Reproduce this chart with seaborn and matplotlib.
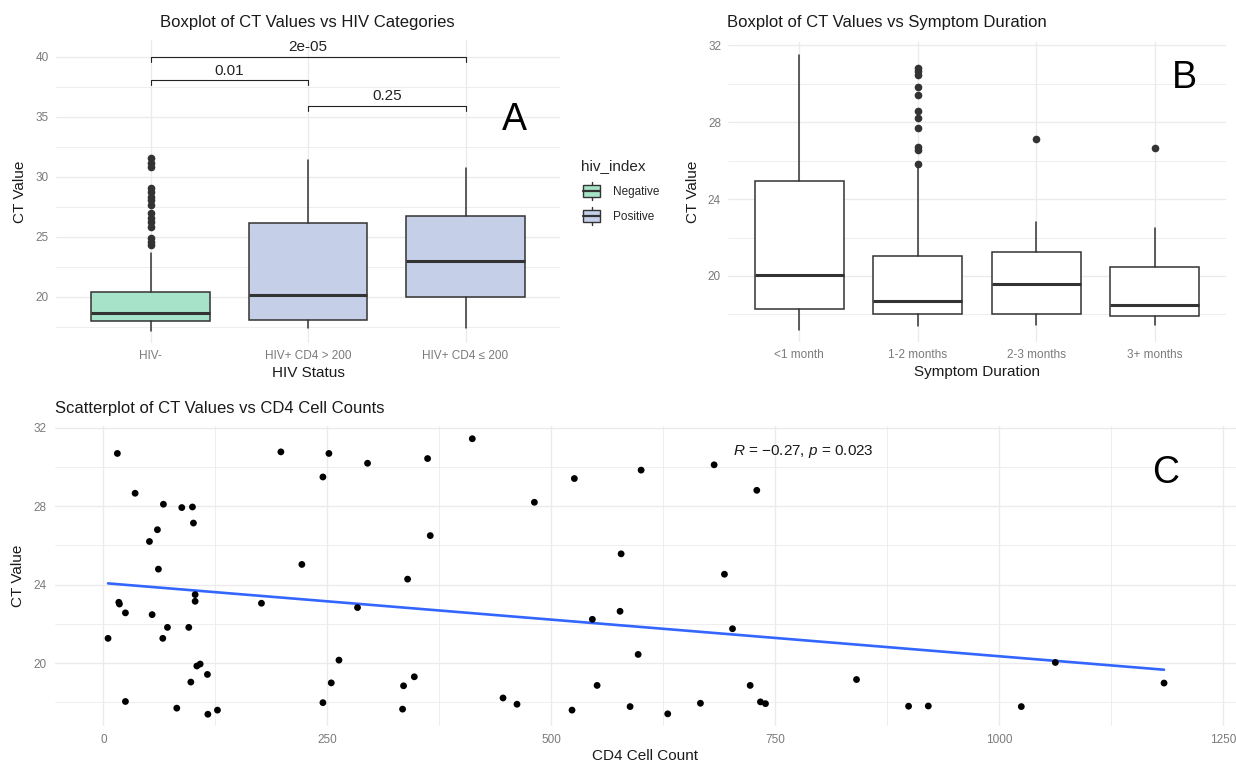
import numpy as np
import pandas as pd
import matplotlib
matplotlib.use("Agg")
import matplotlib.pyplot as plt
import seaborn as sns
from matplotlib.patches import Rectangle, Patch
from matplotlib.lines import Line2D
from matplotlib.legend_handler import HandlerBase
from matplotlib.ticker import MultipleLocator

# ---------------- Data ----------------
# Panel A: CT values by HIV category (box summaries)
hiv_categories = ["HIV-", "HIV+ CD4 > 200", "HIV+ CD4 ≤ 200"]
hiv_index = ["Negative", "Positive", "Positive"]
hiv_wlo = [17.14, 17.36, 17.36]
hiv_q1 = [17.97, 18.06, 20.00]
hiv_med = [18.67, 20.14, 23.00]
hiv_q3 = [20.42, 26.17, 26.72]
hiv_whi = [23.60, 31.39, 30.69]
hiv_outliers = [
    [31.53, 31.11, 30.83, 29.03, 28.75, 28.33, 28.06, 27.64, 26.94, 26.53,
     26.25, 25.83, 24.86, 24.58, 24.31],
    [],
    [],
]
sig_pairs = [(0, 2), (0, 1), (1, 2)]
sig_labels = ["2e-05", "0.01", "0.25"]
sig_y = [40.0, 38.06, 35.9]

# Panel B: CT values by symptom duration
dur_categories = ["<1 month", "1-2 months", "2-3 months", "3+ months"]
dur_wlo = [17.20, 17.40, 17.45, 17.45]
dur_q1 = [18.29, 18.00, 18.03, 17.92]
dur_med = [20.05, 18.70, 19.60, 18.49]
dur_q3 = [24.93, 21.05, 21.23, 20.49]
dur_whi = [31.48, 25.60, 22.82, 22.50]
dur_outliers = [
    [],
    [30.79, 30.65, 30.44, 29.84, 29.40, 28.60, 28.20, 27.67, 26.70, 26.55, 25.82],
    [27.10],
    [26.63],
]

# Panel C: CD4 count vs CT value
cd4_counts = [15.6, 35.4, 67.0, 87.5, 99.4, 100.5, 60.3, 51.4, 61.4, 17.2,
              17.9, 24.6, 54.4, 102.4, 102.4, 71.5, 95.3, 66.3, 5.2, 104.3,
              108.0, 116.1, 97.6, 24.6, 81.9, 116.6, 127.3, 176.4, 198.1, 221.5,
              245.0, 251.7, 294.8, 283.6, 262.9, 254.3, 245.0, 339.5, 335.0, 347.0,
              333.9, 361.8, 411.7, 364.8, 481.0, 525.6, 600.1, 681.6, 729.2, 577.8,
              693.1, 576.6, 545.7, 702.1, 596.8, 551.0, 446.0, 461.6, 523.0, 587.8,
              629.8, 666.3, 721.8, 733.3, 738.9, 840.5, 898.6, 920.6, 1024.4, 1062.4,
              1183.7]
ct_values = [30.69, 28.66, 28.10, 27.93, 27.96, 27.14, 26.80, 26.20, 24.79, 23.10,
             23.01, 22.56, 22.47, 23.49, 23.15, 21.82, 21.82, 21.26, 21.26, 19.85,
             19.95, 19.42, 19.03, 18.04, 17.70, 17.39, 17.60, 23.05, 30.77, 25.03,
             29.49, 30.69, 30.19, 22.83, 20.15, 18.99, 17.98, 24.28, 18.84, 19.30,
             17.65, 30.43, 31.44, 26.50, 28.20, 29.41, 29.84, 30.11, 28.81, 25.57,
             24.53, 22.64, 22.23, 21.75, 20.44, 18.86, 18.22, 17.90, 17.60, 17.78,
             17.41, 17.95, 18.86, 18.02, 17.93, 19.16, 17.80, 17.81, 17.78, 20.03,
             18.98]
corr_text = r"$\it{R}$ = $-$0.27, $\it{p}$ = 0.023"

fill_colors = {"Negative": "#A6E3C8", "Positive": "#C5D0E8"}

# ---------------- Style ----------------
sns.set_theme(style="white")
plt.rcParams["font.family"] = ["Liberation Sans", "DejaVu Sans"]
plt.rcParams["mathtext.fontset"] = "custom"
plt.rcParams["mathtext.rm"] = "Liberation Sans"
plt.rcParams["mathtext.it"] = "Liberation Sans:italic"

W, H = 1236, 765
fig = plt.figure(figsize=(W / 100, H / 100), dpi=100)
fig.patch.set_facecolor("white")

GRID = "#EBEBEB"
TICKC = "#7A7A7A"
EDGE = "#333333"


def px_axes(left, top, right, bottom):
    return fig.add_axes([left / W, 1 - bottom / H, (right - left) / W, (bottom - top) / H])


def style_axes(ax, ymaj, ymin):
    for s in ax.spines.values():
        s.set_visible(False)
    ax.set_facecolor("white")
    ax.yaxis.set_major_locator(MultipleLocator(ymaj))
    ax.yaxis.set_minor_locator(MultipleLocator(ymin))
    ax.grid(which="major", color=GRID, lw=1.0)
    ax.grid(which="minor", color=GRID, lw=0.6)
    ax.set_axisbelow(True)
    ax.tick_params(which="both", length=0, colors=TICKC, labelsize=8.5, pad=5)


def make_stats(labels, wlo, q1, med, q3, whi, outs):
    stats = []
    for i in range(len(labels)):
        stats.append(dict(label=labels[i], whislo=wlo[i], q1=q1[i], med=med[i],
                          q3=q3[i], whishi=whi[i], fliers=outs[i]))
    return stats


def draw_boxes(ax, stats, colors):
    bp = ax.bxp(stats, positions=np.arange(len(stats)), widths=0.75, patch_artist=True,
                showfliers=True, manage_ticks=False,
                boxprops=dict(edgecolor=EDGE, linewidth=1.1),
                medianprops=dict(color=EDGE, linewidth=2.2, solid_capstyle="butt"),
                whiskerprops=dict(color=EDGE, linewidth=1.1),
                capprops=dict(linewidth=0),
                flierprops=dict(marker="o", markerfacecolor=EDGE, markeredgecolor=EDGE,
                                markersize=4.5, linestyle="none"))
    for patch, c in zip(bp["boxes"], colors):
        patch.set_facecolor(c)
    return bp


# ---------------- Panel A ----------------
axA = px_axes(56, 40, 560, 343)
style_axes(axA, 5, 2.5)
draw_boxes(axA, make_stats(hiv_categories, hiv_wlo, hiv_q1, hiv_med, hiv_q3, hiv_whi, hiv_outliers),
           [fill_colors[h] for h in hiv_index])
axA.set_xlim(-0.6, 2.6)
axA.set_ylim(16.14, 41.39)
axA.set_xticks(np.arange(len(hiv_categories)))
axA.set_xticklabels(hiv_categories)
axA.xaxis.grid(True, which="major", color=GRID, lw=1.0)
axA.set_xlabel("HIV Status", fontsize=11, color="#1A1A1A", labelpad=3)
axA.set_ylabel("CT Value", fontsize=11, color="#1A1A1A", labelpad=6)
for (i, j), lab, y in zip(sig_pairs, sig_labels, sig_y):
    axA.plot([i, i, j, j], [y - 0.45, y, y, y - 0.45], color="#222222", lw=0.8)
    axA.text((i + j) / 2, y + 0.2, lab, ha="center", va="bottom", fontsize=11, color="#222222")
axA.text(2.31, 34.7, "A", fontsize=27, ha="center", va="center", color="black")
fig.text(307 / W, 1 - 22 / H, "Boxplot of CT Values vs HIV Categories", ha="center",
         va="center", fontsize=12, color="#1A1A1A")


class BoxKeyHandler(HandlerBase):
    def create_artists(self, legend, orig_handle, xdescent, ydescent, width, height, fontsize, trans):
        fc = orig_handle.get_facecolor()
        x0, y0 = -xdescent, -ydescent
        bx0, bx1 = x0 + width * 0.12, x0 + width * 0.88
        by0, by1 = y0 - height * 0.05, y0 + height * 1.05
        xm = x0 + width / 2
        w1 = Line2D([xm, xm], [by0 - height * 0.3, by0], color=EDGE, lw=1.0, transform=trans)
        w2 = Line2D([xm, xm], [by1, by1 + height * 0.3], color=EDGE, lw=1.0, transform=trans)
        rect = Rectangle((bx0, by0), bx1 - bx0, by1 - by0, facecolor=fc, edgecolor=EDGE,
                         lw=1.0, transform=trans)
        med = Line2D([bx0, bx1], [y0 + height / 2] * 2, color=EDGE, lw=1.6, transform=trans)
        return [w1, w2, rect, med]


handles = [Patch(facecolor=fill_colors["Negative"]), Patch(facecolor=fill_colors["Positive"])]
leg = fig.legend(handles, ["Negative", "Positive"], title="hiv_index",
                 handler_map={Patch: BoxKeyHandler()},
                 loc="upper left", bbox_to_anchor=(576 / W, 1 - 154 / H), frameon=False,
                 fontsize=8.5, title_fontsize=11, handlelength=1.9, handleheight=1.0,
                 labelspacing=1.1, handletextpad=0.8, alignment="left", borderaxespad=0)

# ---------------- Panel B ----------------
axB = px_axes(728, 42, 1226, 342)
style_axes(axB, 4, 2)
draw_boxes(axB, make_stats(dur_categories, dur_wlo, dur_q1, dur_med, dur_q3, dur_whi, dur_outliers),
           ["white"] * len(dur_categories))
axB.set_xlim(-0.6, 3.6)
axB.set_ylim(16.57, 32.16)
axB.set_xticks(np.arange(len(dur_categories)))
axB.set_xticklabels(dur_categories)
axB.xaxis.grid(True, which="major", color=GRID, lw=1.0)
axB.set_xlabel("Symptom Duration", fontsize=11, color="#1A1A1A", labelpad=3)
axB.set_ylabel("CT Value", fontsize=11, color="#1A1A1A", labelpad=6)
axB.text(3.25, 30.3, "B", fontsize=27, ha="center", va="center", color="black")
fig.text(727 / W, 1 - 22 / H, "Boxplot of CT Values vs Symptom Duration", ha="left",
         va="center", fontsize=12, color="#1A1A1A")

# ---------------- Panel C ----------------
axC = px_axes(55, 426, 1236, 726)
style_axes(axC, 4, 2)
df_c = pd.DataFrame({"CD4 Cell Count": cd4_counts, "CT Value": ct_values})
sns.regplot(data=df_c, x="CD4 Cell Count", y="CT Value", ax=axC, scatter=False, ci=None,
            line_kws=dict(color="#3366FF", lw=1.9))
sns.scatterplot(data=df_c, x="CD4 Cell Count", y="CT Value", ax=axC, color="black",
                s=24, edgecolor="none", zorder=3)
axC.set_xlim(-54, 1264)
axC.set_ylim(16.79, 32.09)
axC.xaxis.set_major_locator(MultipleLocator(250))
axC.xaxis.set_minor_locator(MultipleLocator(125))
axC.grid(which="major", color=GRID, lw=1.0)
axC.grid(which="minor", color=GRID, lw=0.6)
axC.tick_params(which="both", length=0, colors=TICKC, labelsize=8.5, pad=6)
axC.set_xlabel("CD4 Cell Count", fontsize=11, color="#1A1A1A", labelpad=2)
axC.set_ylabel("CT Value", fontsize=11, color="#1A1A1A", labelpad=6)
axC.text(703, 30.8, corr_text, ha="left", va="center", fontsize=11, color="#1A1A1A")
axC.text(1186, 29.7, "C", fontsize=27, ha="center", va="center", color="black")
fig.text(55 / W, 1 - 408 / H, "Scatterplot of CT Values vs CD4 Cell Counts", ha="left",
         va="center", fontsize=12, color="#1A1A1A")

fig.savefig("out.png", dpi=100, facecolor="white")
